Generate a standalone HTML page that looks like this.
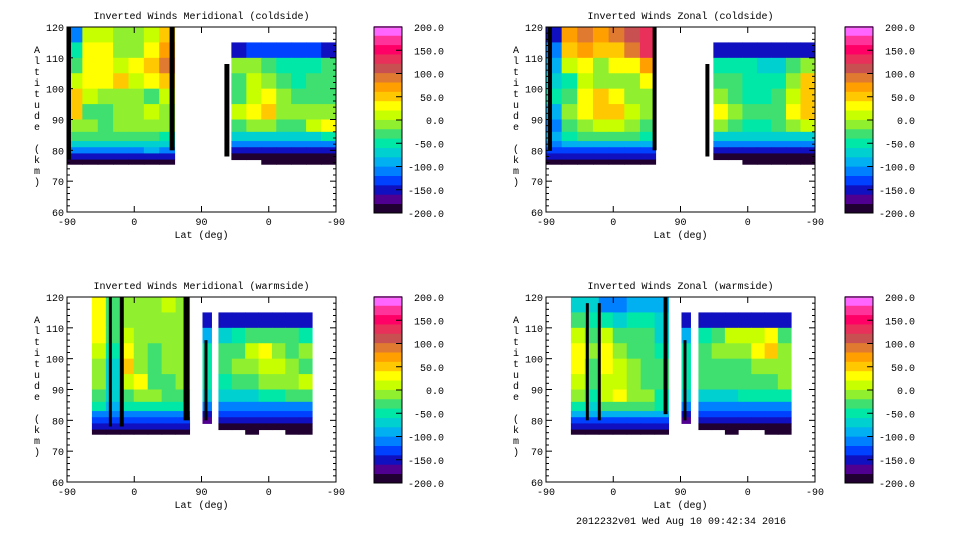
<!DOCTYPE html>
<html><head><meta charset="utf-8">
<style>
body{margin:0;background:#fff;width:960px;height:540px;overflow:hidden}
svg text{font-family:"Liberation Mono","DejaVu Sans Mono",monospace;font-size:10px;fill:#000}
</style></head>
<body>
<svg id="c" width="960" height="540" xmlns="http://www.w3.org/2000/svg"></svg>
<script>
// altitude row edges (km), top to bottom
const rowEdges=[120,115,110,105,100,95,90,86,83,81,79,77,75.5];
// colour scale bands (bottom -200 to top 200)
const bandColors=["#200030","#500090","#1010c0","#0040ff","#0080ff","#00b0f0","#00d0d0","#00e8a8","#40e070","#90f030","#c8ff00","#ffff00","#ffc800","#ffa000","#e07a30","#c85050","#e8305a","#ff0066","#ff3399","#ff66ff"];
const cbLabels=["200.0","150.0","100.0","50.0","0.0","-50.0","-100.0","-150.0","-200.0"];
const xTickLabels=["-90","0","90","0","-90"];
const yTickLabels=[60,70,80,90,100,110,120];

// Panel 1: meridional coldside
const p1LeftU=[0,108];
const p1Left=[
[-120,10,0,-20,-20,10,50],[-60,20,20,-10,-20,30,60],[-40,30,20,10,20,50,80],[10,20,30,50,10,30,50],
[50,10,-10,-10,-20,-30,10],[40,-30,-30,-20,-10,0,-10],[-10,-20,-30,-20,-20,-20,-20],[-30,-30,-40,-40,-40,-40,-50],
[-70,-70,-70,-70,-70,-70,-80],[-110,-110,-110,-110,-110,-100,-110],[-150,-150,-150,-150,-150,-150,-160],[-190,-190,-190,-190,-190,-190,-190]];
const p1RightU=[165,270];
const p1Right=[
[null,null,null,null,null,null,null],[-150,-140,-130,-130,-130,-130,-150],[-20,-10,-40,-60,-60,-60,-40],[-30,10,-10,-40,-60,-40,-40],
[-40,10,30,-20,-40,-30,-40],[0,20,40,-10,-20,-10,-10],[-30,-20,-20,-40,-30,10,30],[-80,-80,-70,-70,-70,-70,-60],
[-120,-120,-120,-120,-120,-120,-120],[-160,-160,-160,-160,-160,-160,-160],[-190,-190,-190,-190,-190,-190,-190],[null,null,-190,-190,-190,-190,-190]];
const p1Strips=[[158,163,78,108],[103,108,80,120],[0,4,77,120]];

// Panel 2: zonal coldside
const p2LeftU=[0,110];
const p2Left=[
[-150,60,80,70,80,100,120],[-120,40,60,40,50,80,130],[-100,10,20,-10,20,30,70],[-80,-60,0,-20,-20,-20,20],
[-60,-40,30,50,20,-10,-10],[-90,-10,30,50,40,10,-20],[-110,-40,-10,10,10,-10,-30],[-100,-60,-40,-40,-40,-40,-50],
[-110,-90,-90,-90,-90,-90,-90],[-130,-130,-130,-130,-130,-130,-130],[-160,-160,-160,-160,-160,-160,-160],[-190,-190,-190,-190,-190,-190,-190]];
const p2RightU=[168,270];
const p2Right=[
[null,null,null,null,null,null,null],[-150,-150,-150,-150,-150,-150,-150],[-60,-60,-60,-80,-80,-40,-20],[-30,-40,-60,-60,-60,-10,40],
[-20,-30,-50,-60,-40,10,50],[20,-10,-40,-40,-30,30,50],[-20,-40,-50,-50,-40,-20,10],[-80,-80,-80,-80,-80,-80,-80],
[-120,-120,-120,-120,-120,-120,-120],[-160,-160,-160,-160,-160,-160,-160],[-190,-190,-190,-190,-190,-190,-190],[null,null,-190,-190,-190,-190,-190]];
const p2Strips=[[160,164,78,108],[107,111,80,120],[2,6,80,120]];

// Panel 3: meridional warmside
const p3LeftU=[25,123];
const p3Left=[
[30,-30,-20,-20,-20,10,-20],[30,-30,-20,-20,-10,-10,-20],[20,-40,10,-10,-20,-20,-20],[0,-60,30,-20,-40,-20,-20],
[-10,-80,40,-10,-40,-20,-20],[-20,-80,0,20,-30,-30,-20],[-30,-80,-30,-20,-20,-30,-40],[-60,-100,-60,-60,-60,-60,-60],
[-110,-110,-110,-110,-110,-110,-110],[-130,-130,-130,-130,-130,-130,-130],[-160,-160,-160,-160,-160,-160,-160],[-190,-190,-190,-190,-190,-190,-190]];
const p3MidU=[136,145];
const p3Mid=[[null],[-150],[-100],[-60],[-60],[-60],[-80],[-120],[-150],[-170],[null],[null]];
const p3RightU=[152,246];
const p3Right=[
[null,null,null,null,null,null,null],[-150,-150,-150,-150,-150,-150,-150],[-80,-60,-40,-40,-40,-40,-60],[-40,-30,10,20,-20,-40,-20],
[-40,-20,-10,10,0,-20,-30],[-60,-40,-30,-20,-10,-20,0],[-80,-80,-70,-60,-50,-40,-40],[-110,-110,-110,-110,-110,-110,-110],
[-130,-130,-130,-130,-130,-130,-130],[-160,-160,-160,-160,-160,-160,-160],[-190,-190,-190,-190,-190,-190,-190],[null,null,-190,null,null,-190,-190]];
const p3Strips=[[42,45,78,120],[53,57,78,120],[117,123,80,120],[138,141,80,106]];

// Panel 4: zonal warmside
const p4LeftU=[25,123];
const p4Left=[
[-80,-70,-120,-120,-100,-100,-100],[-40,-60,-60,-80,-60,-60,-80],[10,-30,10,-40,-40,-40,-70],[30,-20,20,-10,-30,-40,-50],
[20,-40,20,10,-20,-40,-40],[10,-40,10,10,-10,-30,-40],[-10,-60,10,20,-10,-20,-60],[-50,-80,-40,-30,-40,-40,-60],
[-100,-100,-100,-100,-100,-100,-100],[-130,-130,-130,-130,-130,-130,-130],[-160,-160,-160,-160,-160,-160,-160],[-190,-190,-190,-190,-190,-190,-190]];
const p4MidU=[136,145];
const p4Mid=[[null],[-150],[-100],[-60],[-60],[-60],[-80],[-120],[-150],[-170],[null],[null]];
const p4RightU=[153,246];
const p4Right=[
[null,null,null,null,null,null,null],[-150,-150,-150,-150,-150,-150,-150],[-60,-30,0,10,10,20,-40],[-40,-20,-20,-20,30,40,-20],
[-30,-30,-30,-30,-20,-10,-20],[-40,-40,-40,-40,-30,-30,-10],[-80,-80,-70,-60,-60,-60,-60],[-110,-110,-110,-110,-110,-110,-110],
[-130,-130,-130,-130,-130,-130,-130],[-160,-160,-160,-160,-160,-160,-160],[-190,-190,-190,-190,-190,-190,-190],[null,null,-190,null,null,-190,-190]];
const p4Strips=[[40,43,80,118],[52,55,80,118],[138,141,80,106],[118,122,82,120]];

const NS="http://www.w3.org/2000/svg";
const svg=document.getElementById('c');
function el(tag,attrs,parent){const e=document.createElementNS(NS,tag);for(const k in attrs)e.setAttribute(k,attrs[k]);(parent||svg).appendChild(e);return e;}
function colorOf(v){let i=Math.floor((v+200)/20);i=Math.max(0,Math.min(19,i));return bandColors[i];}

const panels=[
 {x:67,y:27,title:"Inverted Winds Meridional (coldside)",blocks:[[p1LeftU,p1Left],[p1RightU,p1Right]],strips:p1Strips,cb:374},
 {x:546,y:27,title:"Inverted Winds Zonal (coldside)",blocks:[[p2LeftU,p2Left],[p2RightU,p2Right]],strips:p2Strips,cb:845},
 {x:67,y:297,title:"Inverted Winds Meridional (warmside)",blocks:[[p3LeftU,p3Left],[p3MidU,p3Mid],[p3RightU,p3Right]],strips:p3Strips,cb:374},
 {x:546,y:297,title:"Inverted Winds Zonal (warmside)",blocks:[[p4LeftU,p4Left],[p4MidU,p4Mid],[p4RightU,p4Right]],strips:p4Strips,cb:845}
];
const W=269,H=185;
panels.forEach((p,pi)=>{
 const g=el('g',{});
 
 
 const xs=u=>p.x+u*W/270;
 const ys=a=>p.y+(120-a)*H/60;
 const field=el('g',{},g);
 
 
 p.blocks.forEach(([u,m])=>{
  const n=m[0].length,cw=(u[1]-u[0])/n;
  m.forEach((row,r)=>row.forEach((v,c)=>{
   if(v===null)return;
   const x0=xs(u[0]+c*cw),x1=xs(u[0]+(c+1)*cw),y0=ys(rowEdges[r]),y1=ys(rowEdges[r+1]);
   const rc=el('rect',{x:x0,y:y0,width:x1-x0+0.5,height:y1-y0+0.5,fill:colorOf(v)},field);
   
   
  }));
 });
 p.strips.forEach(s=>{
  const r=el('rect',{x:xs(s[0]),y:ys(s[3]),width:xs(s[1])-xs(s[0]),height:ys(s[2])-ys(s[3]),fill:'#000'},field);
  
  
 });
 const fr=el('rect',{x:p.x,y:p.y,width:W,height:H,fill:'none',stroke:'#000','stroke-width':1},g);
 
 
 for(let a=60;a<=120;a+=2){const yy=ys(a),len=(a%10===0)?6:3;
  el('line',{x1:p.x,x2:p.x+len,y1:yy,y2:yy,stroke:'#000'},g);
  el('line',{x1:p.x+W-len,x2:p.x+W,y1:yy,y2:yy,stroke:'#000'},g);}
 yTickLabels.forEach(a=>{const t=el('text',{x:p.x-3,y:ys(a)+4,'text-anchor':'end'},g);t.textContent=a;
  });
 xTickLabels.forEach((l,i)=>{const xx=xs(i*67.5);
  el('line',{x1:xx,x2:xx,y1:p.y+H,y2:p.y+H-6,stroke:'#000'},g);
  el('line',{x1:xx,x2:xx,y1:p.y,y2:p.y+6,stroke:'#000'},g);
  const t=el('text',{x:xx,y:p.y+H+13,'text-anchor':'middle'},g);t.textContent=l;
  });
 const tt=el('text',{x:p.x+W/2,y:p.y-8,'text-anchor':'middle'},g);tt.textContent=p.title;
 
 const xl=el('text',{x:p.x+W/2,y:p.y+H+26,'text-anchor':'middle'},g);xl.textContent="Lat (deg)";
 
 const yl=el('text',{x:p.x-30,y:p.y+26,'text-anchor':'middle'},g);
 
 "Altitude (km)".split('').forEach((ch,i)=>{const ts=el('tspan',{x:p.x-30,y:p.y+26+i*11},yl);ts.textContent=ch;});
 const cbg=el('g',{},g);
 
 const bh=(H+2)/20;
 bandColors.forEach((c,i)=>{el('rect',{x:p.cb,y:p.y+H+1-(i+1)*bh,width:28,height:bh+0.4,fill:c},cbg);});
 el('rect',{x:p.cb,y:p.y,width:28,height:H+1,fill:'none',stroke:'#000'},cbg);
 cbLabels.forEach((l,i)=>{const yy=p.y+i*(H+1)/8;
  if(i>0&&i<8)el('line',{x1:p.cb+22,x2:p.cb+28,y1:yy,y2:yy,stroke:'#000'},cbg);
  const t=el('text',{x:p.cb+70,y:yy+4,'text-anchor':'end'},cbg);t.textContent=l;
  });
});
const ft=el('text',{x:681,y:524,'text-anchor':'middle'});
ft.textContent="2012232v01 Wed Aug 10 09:42:34 2016";


</script>
</body></html>
